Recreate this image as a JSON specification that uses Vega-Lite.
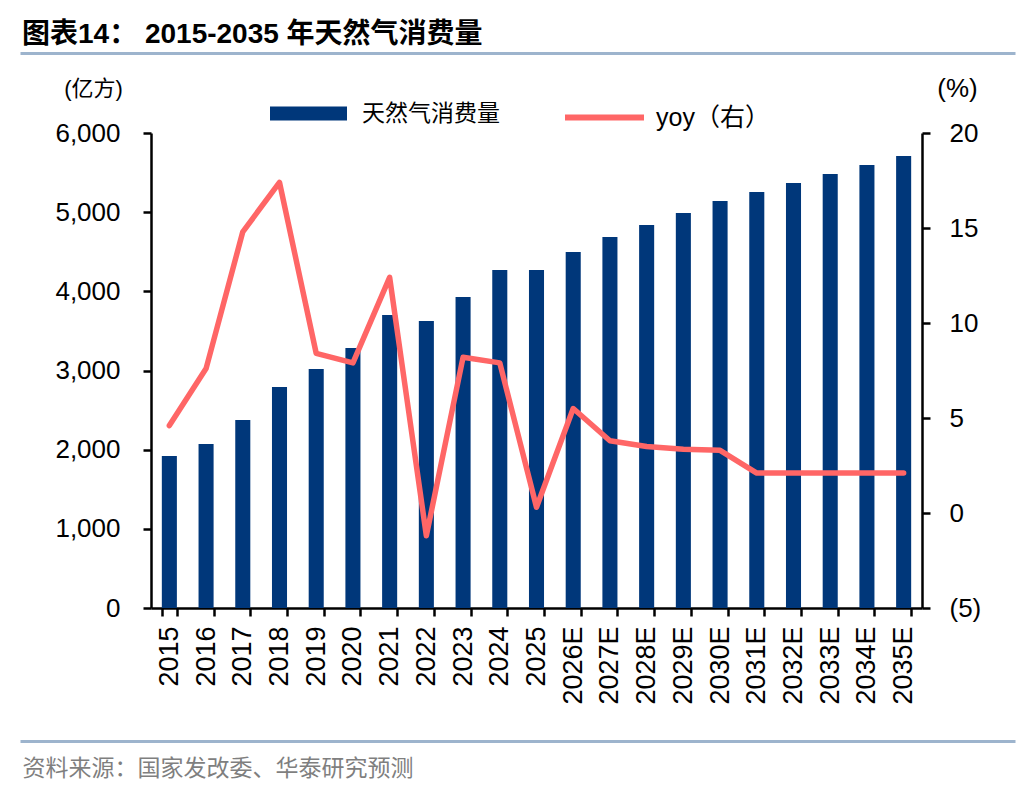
{
  "$schema": "https://vega.github.io/schema/vega-lite/v6.json",
  "width": 771,
  "height": 475,
  "autosize": {"type": "none"},
  "padding": {"left": 151, "top": 133, "right": 114, "bottom": 184},
  "background": "white",
  "config": {
    "view": {"stroke": null},
    "font": "Liberation Sans, Noto Sans CJK SC",
    "axis": {"grid": false, "labelFont": "Liberation Sans", "labelColor": "black", "domainColor": "black", "tickColor": "black"}
  },
  "title": {
    "text": "图表14：  2015-2035 年天然气消费量",
    "anchor": "start",
    "frame": "group",
    "orient": "top",
    "dx": -129,
    "offset": 4,
    "fontSize": 28,
    "fontWeight": "bold",
    "font": "Liberation Sans, Noto Sans CJK SC",
    "color": "black"
  },
  "datasets": {
    "main": [
      {"year": "2015", "consumption": 1920, "yoy": 4.6},
      {"year": "2016", "consumption": 2071, "yoy": 7.6},
      {"year": "2017", "consumption": 2375, "yoy": 14.8},
      {"year": "2018", "consumption": 2791, "yoy": 17.4},
      {"year": "2019", "consumption": 3019, "yoy": 8.4},
      {"year": "2020", "consumption": 3284, "yoy": 7.9},
      {"year": "2021", "consumption": 3701, "yoy": 12.4},
      {"year": "2022", "consumption": 3625, "yoy": -1.2},
      {"year": "2023", "consumption": 3928, "yoy": 8.2},
      {"year": "2024", "consumption": 4269, "yoy": 7.9},
      {"year": "2025", "consumption": 4269, "yoy": 0.3},
      {"year": "2026E", "consumption": 4497, "yoy": 5.5},
      {"year": "2027E", "consumption": 4686, "yoy": 3.8},
      {"year": "2028E", "consumption": 4838, "yoy": 3.5},
      {"year": "2029E", "consumption": 4989, "yoy": 3.35},
      {"year": "2030E", "consumption": 5141, "yoy": 3.3},
      {"year": "2031E", "consumption": 5255, "yoy": 2.1},
      {"year": "2032E", "consumption": 5368, "yoy": 2.1},
      {"year": "2033E", "consumption": 5482, "yoy": 2.1},
      {"year": "2034E", "consumption": 5596, "yoy": 2.1},
      {"year": "2035E", "consumption": 5709, "yoy": 2.1}
    ],
    "rulers": [{"d": 0}, {"d": 1}]
  },
  "layer": [
    {
      "data": {"name": "main"},
      "layer": [
        {
          "mark": {"type": "bar", "color": "#00377A"},
          "encoding": {
            "x": {
              "field": "year", "type": "ordinal", "sort": null,
              "scale": {"paddingInner": 0.59, "paddingOuter": 0.295},
              "axis": {
                "orient": "bottom",
                "labelAngle": -90,
                "labelAlign": "right",
                "labelBaseline": "middle",
                "labelFontSize": 27,
                "labelPadding": 10,
                "tickBand": "extent",
                "tickSize": 8,
                "tickWidth": 2.5,
                "domainWidth": 2.5,
                "title": "资料来源：国家发改委、华泰研究预测",
                "titleFont": "Noto Sans CJK SC",
                "titleFontSize": 23,
                "titleFontWeight": "normal",
                "titleColor": "#7F7F7F",
                "titleAnchor": null,
                "titleAlign": "left",
                "titleBaseline": "middle",
                "titleX": -129,
                "titleY": 160
              }
            },
            "y": {
              "field": "consumption", "type": "quantitative",
              "scale": {"domain": [0, 6000], "nice": false, "zero": true},
              "axis": {
                "orient": "left",
                "values": [0, 1000, 2000, 3000, 4000, 5000, 6000],
                "format": ",.0f",
                "labelFontSize": 26,
                "labelPadding": 23,
                "tickSize": 8,
                "tickWidth": 2.5,
                "domainWidth": 2.5,
                "title": "(亿方)",
                "titleFont": "Liberation Sans, Noto Sans CJK SC",
                "titleFontSize": 22,
                "titleFontWeight": "normal",
                "titleColor": "black",
                "titleAngle": 0,
                "titleAnchor": null,
                "titleAlign": "center",
                "titleBaseline": "middle",
                "titleX": -58,
                "titleY": -45
              }
            },
            "fill": {
              "datum": "天然气消费量",
              "scale": {"range": ["#00377A"]},
              "legend": {
                "orient": "none",
                "legendX": 119,
                "legendY": -58,
                "padding": 0,
                "title": null,
                "symbolType": "M-1,-0.18L1,-0.18L1,0.18L-1,0.18Z",
                "symbolSize": 5929,
                "symbolStrokeWidth": 0,
                "labelFont": "Noto Sans CJK SC",
                "labelFontSize": 23,
                "labelColor": "black",
                "labelOffset": 15
              }
            }
          }
        },
        {
          "mark": {"type": "line", "color": "#FF6666", "strokeWidth": 5.5, "strokeCap": "round", "strokeJoin": "round"},
          "encoding": {
            "x": {"field": "year", "type": "ordinal", "sort": null},
            "y": {
              "field": "yoy", "type": "quantitative",
              "scale": {"domain": [-5, 20], "nice": false, "zero": false},
              "axis": {
                "orient": "right",
                "values": [-5, 0, 5, 10, 15, 20],
                "labelExpr": "datum.value < 0 ? '(' + abs(datum.value) + ')' : datum.label",
                "labelFontSize": 26,
                "labelPadding": 19,
                "tickSize": 8,
                "tickWidth": 2.5,
                "domainWidth": 2.5,
                "title": "(%)",
                "titleFont": "Liberation Sans",
                "titleFontSize": 26,
                "titleFontWeight": "normal",
                "titleColor": "black",
                "titleAngle": 0,
                "titleAnchor": null,
                "titleAlign": "center",
                "titleBaseline": "middle",
                "titleX": 35,
                "titleY": -45
              }
            },
            "stroke": {
              "datum": "yoy（右）",
              "scale": {"range": ["#FF6666"]},
              "legend": {
                "orient": "none",
                "legendX": 411,
                "legendY": -58,
                "padding": 0,
                "title": null,
                "symbolType": "stroke",
                "symbolSize": 6241,
                "symbolStrokeWidth": 6,
                "labelFont": "Liberation Sans, Noto Sans CJK SC",
                "labelFontSize": 25,
                "labelColor": "black",
                "labelOffset": 9
              }
            }
          }
        }
      ],
      "resolve": {"scale": {"y": "independent"}}
    },
    {
      "data": {"name": "rulers"},
      "mark": {"type": "point", "opacity": 0},
      "encoding": {
        "x": {
          "field": "d", "type": "quantitative",
          "scale": {"domain": [0, 1], "range": [-131, 864], "nice": false, "zero": false},
          "axis": {"orient": "top", "offset": 80, "domainColor": "#9DB4CD", "domainWidth": 3, "ticks": false, "labels": false, "title": null, "grid": false}
        }
      }
    },
    {
      "data": {"name": "rulers"},
      "mark": {"type": "point", "opacity": 0},
      "encoding": {
        "x": {
          "field": "d", "type": "quantitative",
          "scale": {"domain": [0, 1], "range": [-131, 864], "nice": false, "zero": false},
          "axis": {"orient": "bottom", "offset": 133, "domainColor": "#9DB4CD", "domainWidth": 3, "ticks": false, "labels": false, "title": null, "grid": false}
        }
      }
    }
  ],
  "resolve": {"scale": {"x": "independent", "y": "independent"}}
}
